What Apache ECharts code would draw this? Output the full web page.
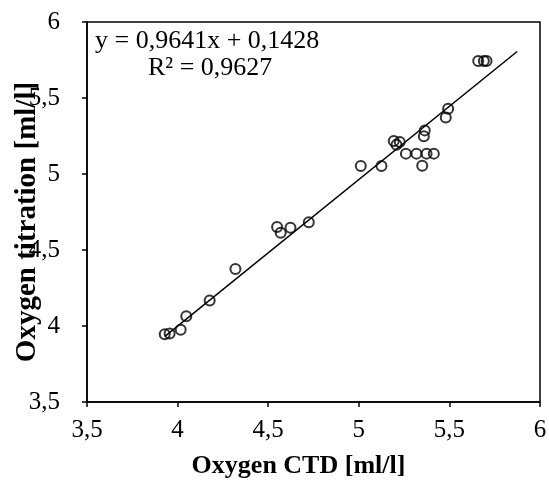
<!DOCTYPE html>
<html>
<head>
<meta charset="utf-8">
<script src="https://cdn.jsdelivr.net/npm/echarts@6/dist/echarts.min.js"></script>
<style>
  html, body { margin: 0; padding: 0; background: #fff; }
  #chart { width: 549px; height: 489px; }
</style>
</head>
<body>
<div id="chart"></div>
<script>
// oxygen CTD vs titration
const ctd = [3.929, 3.956, 4.017, 4.048, 4.177, 4.319, 4.549, 4.569, 4.623, 4.724,
  5.011, 5.125, 5.193, 5.208, 5.226, 5.260, 5.318, 5.350, 5.374, 5.414,
  5.364, 5.359, 5.480, 5.493, 5.659, 5.690, 5.705];
const titration = [3.945, 3.950, 3.976, 4.064, 4.167, 4.375, 4.651, 4.614, 4.647, 4.682,
  5.053, 5.053, 5.217, 5.193, 5.211, 5.134, 5.134, 5.055, 5.134, 5.134,
  5.287, 5.248, 5.371, 5.430, 5.743, 5.743, 5.743];
// trend line end points
const trendX = [3.93, 5.874];
const trendY = [3.932, 5.806];

const eqText = "y = 0,9641x + 0,1428";
const r2Text = "R\u00b2 = 0,9627";

const serif = "'Liberation Serif', 'DejaVu Serif', serif";
const comma = (v) => String(v).replace(".", ",");

const chart = echarts.init(document.getElementById("chart"), null, { renderer: "canvas" });

chart.setOption({
  animation: false,
  grid: {
    left: 87, right: 9, top: 22, bottom: 87,
    containLabel: false, outerBoundsMode: "none",
    show: true, borderColor: "#000", borderWidth: 1.5, backgroundColor: "transparent"
  },
  xAxis: {
    type: "value", min: 3.5, max: 6, interval: 0.5,
    name: "Oxygen CTD [ml/l]", nameLocation: "middle", nameGap: 51, nameMoveOverlap: false,
    nameTextStyle: { fontFamily: serif, fontWeight: "bold", fontSize: 26, color: "#000",
      padding: [0, 30, 0, 0] },
    axisLine: { onZero: false, lineStyle: { color: "#000", width: 1.5 } },
    axisTick: { show: true, length: 5, lineStyle: { color: "#000", width: 1.5 } },
    axisLabel: { formatter: comma, fontFamily: serif, fontSize: 25, color: "#000", margin: 16 },
    splitLine: { show: false }
  },
  yAxis: {
    type: "value", min: 3.5, max: 6, interval: 0.5,
    name: "Oxygen titration [ml/l]", nameLocation: "middle", nameGap: 45, nameMoveOverlap: false,
    nameTextStyle: { fontFamily: serif, fontWeight: "bold", fontSize: 29, color: "#000",
      padding: [0, 20, 0, 0] },
    axisLine: { onZero: false, lineStyle: { color: "#000", width: 1.5 } },
    axisTick: { show: true, length: 5, lineStyle: { color: "#000", width: 1.5 } },
    axisLabel: { formatter: comma, fontFamily: serif, fontSize: 25, color: "#000", margin: 27 },
    splitLine: { show: false }
  },
  graphic: [
    { type: "text", left: 95, top: 28,
      style: { text: eqText, font: "26px " + serif, fill: "#000" } },
    { type: "text", left: 148, top: 55,
      style: { text: r2Text, font: "26px " + serif, fill: "#000" } }
  ],
  series: [
    {
      type: "line",
      data: trendX.map((x, i) => [x, trendY[i]]),
      symbol: "none",
      lineStyle: { color: "#000", width: 1.5 },
      z: 1
    },
    {
      type: "scatter",
      data: ctd.map((x, i) => [x, titration[i]]),
      symbol: "circle",
      symbolSize: 10,
      itemStyle: { color: "rgba(255,255,255,0)", borderColor: "#000", borderWidth: 2 },
      z: 2
    }
  ]
});
</script>
</body>
</html>
